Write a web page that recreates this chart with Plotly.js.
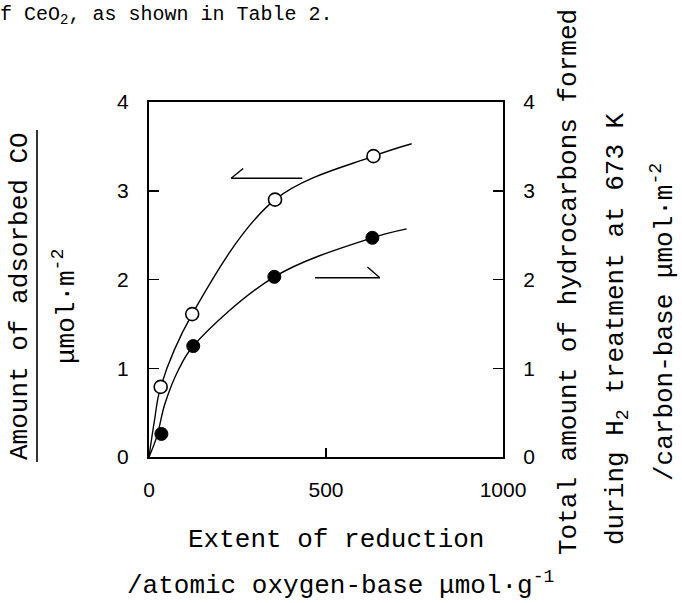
<!DOCTYPE html>
<html>
<head>
<meta charset="utf-8">
<script src="https://cdn.plot.ly/plotly-3.0.1.min.js"></script>
<style>html,body{margin:0;padding:0;background:#fff;}#chart{width:682px;height:603px;}</style>
</head>
<body>
<div id="chart"></div>
<script>
// Data
var extentOpen = [33, 122, 356, 634];          // atomic oxygen-base µmol/g
var adsorbedCO = [0.79, 1.61, 2.90, 3.39];     // µmol/m2 (left axis, open circles)
var extentFilled = [35, 125, 354, 631];
var hydrocarbons = [0.26, 1.25, 2.03, 2.47];   // µmol/m2 (right axis, filled circles)

// Hand-drawn fit curves
var fitOpenX = [0, 15, 33, 122, 356, 634, 742];
var fitOpenY = [0, 0.40, 0.79, 1.61, 2.90, 3.39, 3.53];
var fitFilledX = [0, 22, 45, 83, 125, 354, 631, 728];
var fitFilledY = [0, 0.23, 0.60, 0.98, 1.25, 2.03, 2.47, 2.57];

var xTicks = [0, 500, 1000];
var xTickText = ['0', '500', '1000'];
var yTicks = [0, 1, 2, 3, 4];
var yTickText = ['0', '1', '2', '3', '4'];

// pixel -> paper helpers (plot area 149..503 x 102..457)
var L = 149, R = 503, T = 102, B = 457;
function px(x) { return (x - L) / (R - L); }
function py(y) { return (B - y) / (B - T); }

var mono = 'Liberation Mono, Courier New, monospace';
var sans = 'Liberation Sans, Arial, sans-serif';
var titleFont = {family: mono, size: 26, color: '#000'};
var tickFont = {family: sans, size: 21, color: '#000'};

var traces = [
  {x: fitOpenX, y: fitOpenY, mode: 'lines', line: {color: '#000', width: 1.4, shape: 'spline', smoothing: 1}, xaxis: 'x', yaxis: 'y', hoverinfo: 'skip'},
  {x: extentOpen, y: adsorbedCO, mode: 'markers', marker: {symbol: 'circle', size: 13, color: '#fff', line: {color: '#000', width: 1.6}}, xaxis: 'x', yaxis: 'y'},
  {x: fitFilledX, y: fitFilledY, mode: 'lines', line: {color: '#000', width: 1.4, shape: 'spline', smoothing: 1}, xaxis: 'x', yaxis: 'y2', hoverinfo: 'skip'},
  {x: extentFilled, y: hydrocarbons, mode: 'markers', marker: {symbol: 'circle', size: 13, color: '#000', line: {color: '#000', width: 1}}, xaxis: 'x', yaxis: 'y2'}
];

var axisCommon = {
  showgrid: false, zeroline: false, showline: true, linecolor: '#000', linewidth: 2,
  ticks: 'inside', tickcolor: '#000', tickwidth: 1.5, tickfont: tickFont
};

var layout = {
  width: 682, height: 603,
  margin: {l: L, r: 682 - R, t: T, b: 603 - B, pad: 0},
  paper_bgcolor: '#fff', plot_bgcolor: '#fff',
  showlegend: false,
  xaxis: Object.assign({}, axisCommon, {range: [0, 1000], tickmode: 'array', tickvals: xTicks, ticktext: xTickText, ticklen: 9, mirror: true, ticklabelstandoff: 13}),
  yaxis: Object.assign({}, axisCommon, {range: [0, 4], tickmode: 'array', tickvals: yTicks, ticktext: yTickText, ticklen: 10, ticklabelstandoff: 14}),
  yaxis2: Object.assign({}, axisCommon, {range: [0, 4], overlaying: 'y', side: 'right', tickmode: 'array', tickvals: yTicks, ticktext: yTickText, ticklen: 10, ticklabelstandoff: 14}),
  shapes: [
    // left-pointing arrow (refers to left axis)
    {type: 'line', xref: 'x', yref: 'y', x0: 232, y0: 3.14, x1: 433, y1: 3.14, line: {color: '#000', width: 1.4}},
    {type: 'line', xref: 'x', yref: 'y', x0: 232, y0: 3.14, x1: 266, y1: 3.25, line: {color: '#000', width: 1.4}},
    // right-pointing arrow (refers to right axis)
    {type: 'line', xref: 'x', yref: 'y', x0: 469, y0: 2.02, x1: 652, y1: 2.02, line: {color: '#000', width: 1.4}},
    {type: 'line', xref: 'x', yref: 'y', x0: 652, y0: 2.02, x1: 617, y1: 2.14, line: {color: '#000', width: 1.4}},
    // fraction bar of left axis title
    {type: 'line', xref: 'paper', yref: 'paper', x0: px(37), y0: py(130), x1: px(37), y1: py(462), line: {color: '#000', width: 1.6}}
  ],
  annotations: [
    {text: 'f CeO<sub>2</sub>, as shown in Table 2.', xref: 'paper', yref: 'paper', x: px(-2), y: py(15), xanchor: 'left', yanchor: 'middle', showarrow: false, font: {family: mono, size: 20, color: '#000'}},
    {text: 'Extent of reduction', xref: 'paper', yref: 'paper', x: px(336), y: py(540), xanchor: 'center', yanchor: 'middle', showarrow: false, font: titleFont},
    {text: '/atomic oxygen-base \u03bcmol\u00b7g<sup>-1</sup>', xref: 'paper', yref: 'paper', x: px(341), y: py(584), xanchor: 'center', yanchor: 'middle', showarrow: false, font: titleFont},
    {text: 'Amount of adsorbed CO', xref: 'paper', yref: 'paper', x: px(20), y: py(296), xanchor: 'center', yanchor: 'middle', textangle: -90, showarrow: false, font: titleFont},
    {text: '\u03bcmol\u00b7m<sup>-2</sup>', xref: 'paper', yref: 'paper', x: px(65), y: py(307), xanchor: 'center', yanchor: 'middle', textangle: -90, showarrow: false, font: titleFont},
    {text: 'Total amount of hydrocarbons formed', xref: 'paper', yref: 'paper', x: px(569), y: py(282), xanchor: 'center', yanchor: 'middle', textangle: -90, showarrow: false, font: titleFont},
    {text: 'during H<sub>2</sub> treatment at 673 K', xref: 'paper', yref: 'paper', x: px(617), y: py(329), xanchor: 'center', yanchor: 'middle', textangle: -90, showarrow: false, font: titleFont},
    {text: '/carbon-base \u03bcmol\u00b7m<sup>-2</sup>', xref: 'paper', yref: 'paper', x: px(663), y: py(322), xanchor: 'center', yanchor: 'middle', textangle: -90, showarrow: false, font: titleFont}
  ]
};

Plotly.newPlot('chart', traces, layout, {staticPlot: true, displayModeBar: false});
</script>
</body>
</html>
